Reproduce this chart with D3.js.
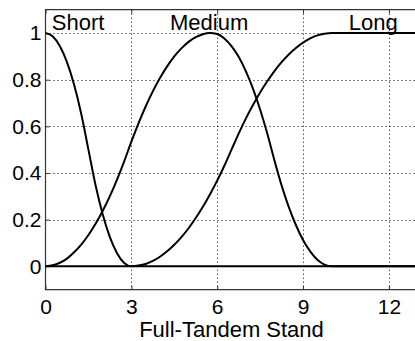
<!DOCTYPE html>
<html>
<head>
<meta charset="utf-8">
<script src="https://cdn.jsdelivr.net/npm/d3@7"></script>
<style>
  body { margin: 0; background: #fff; }
  svg { display: block; font-family: "Liberation Sans", Arial, sans-serif; }
</style>
</head>
<body>
<div id="chart"></div>
<script>
// sample positions along Full-Tandem Stand
const xs = [0, 0.25, 0.5, 0.75, 1, 1.25, 1.5, 1.75, 2, 2.25, 2.5, 2.75, 3,
  3.25, 3.5, 3.75, 4, 4.25, 4.5, 4.75, 5, 5.25, 5.5, 5.75, 6, 6.25, 6.5, 6.75,
  7, 7.25, 7.5, 7.75, 8, 8.25, 8.5, 8.75, 9, 9.25, 9.5, 9.75, 10, 13];

// membership values
const shortVals = [1, 0.986, 0.944, 0.875, 0.778, 0.653, 0.5, 0.347, 0.222, 0.125, 0.056, 0.014, 0,
  0, 0, 0, 0, 0, 0, 0, 0, 0, 0, 0, 0, 0, 0, 0,
  0, 0, 0, 0, 0, 0, 0, 0, 0, 0, 0, 0, 0, 0];
const mediumVals = [0, 0.004, 0.015, 0.033, 0.060, 0.093, 0.134, 0.182, 0.238, 0.301, 0.372, 0.450, 0.534,
  0.613, 0.685, 0.750, 0.807, 0.857, 0.900, 0.934, 0.962, 0.982, 0.995, 1.0, 0.996, 0.977, 0.944, 0.898,
  0.837, 0.762, 0.672, 0.569, 0.454, 0.347, 0.255, 0.177, 0.113, 0.064, 0.028, 0.007, 0, 0];
const longVals = [0, 0, 0, 0, 0, 0, 0, 0, 0, 0, 0, 0, 0,
  0.003, 0.010, 0.023, 0.041, 0.064, 0.092, 0.125, 0.163, 0.207, 0.255, 0.309, 0.367, 0.431, 0.5, 0.569,
  0.633, 0.691, 0.745, 0.793, 0.837, 0.875, 0.908, 0.936, 0.959, 0.977, 0.990, 0.997, 1, 1];

const seriesNames = ["Short", "Medium", "Long"];
const labelX = [0.22, 5.72, 10.6];          // where each name sits (data units)
const labelAnchor = ["start", "middle", "start"];

const xTicks = [0, 3, 6, 9, 12];
const yTicks = [0, 0.2, 0.4, 0.6, 0.8, 1];
const xTitle = "Full-Tandem Stand";

const width = 415, height = 341;
const plot = {left: 45.5, right: 417.5, top: 9.7, bottom: 289.6};

const svg = d3.select("#chart").append("svg")
  .attr("width", width)
  .attr("height", height);

const x = d3.scaleLinear().domain([0, 13]).range([plot.left, plot.right]);
const y = d3.scaleLinear().domain([-0.1, 1.1]).range([plot.bottom, plot.top]);

svg.append("clipPath").attr("id", "clip")
  .append("rect")
  .attr("x", plot.left).attr("y", plot.top - 2)
  .attr("width", plot.right - plot.left).attr("height", plot.bottom - plot.top + 4);

// dotted grid
const grid = svg.append("g").attr("stroke", "#000").attr("stroke-width", 1)
  .attr("stroke-dasharray", "1,3");
grid.selectAll(".vg").data(xTicks.filter(d => d > 0)).enter().append("line")
  .attr("x1", d => Math.round(x(d)) + 0.5).attr("x2", d => Math.round(x(d)) + 0.5)
  .attr("y1", plot.top).attr("y2", plot.bottom);
grid.selectAll(".hg").data(yTicks).enter().append("line")
  .attr("x1", plot.left).attr("x2", plot.right)
  .attr("y1", d => Math.round(y(d)) + 0.5).attr("y2", d => Math.round(y(d)) + 0.5);

// axes, ticks pointing inward like matlab
const yAxis = svg.append("g")
  .attr("transform", `translate(${plot.left},0)`)
  .call(d3.axisLeft(y).tickValues(yTicks).tickSizeInner(-4).tickSizeOuter(0)
    .tickPadding(4).tickFormat(d => String(d)));
const xAxis = svg.append("g")
  .attr("transform", `translate(0,${plot.bottom})`)
  .call(d3.axisBottom(x).tickValues(xTicks).tickSizeInner(-4).tickSizeOuter(0)
    .tickPadding(9.5).tickFormat(d => String(d)));
const xTop = svg.append("g")
  .attr("transform", `translate(0,${plot.top})`)
  .call(d3.axisTop(x).tickValues(xTicks).tickSizeInner(-4).tickSizeOuter(0).tickFormat(""));

[yAxis, xAxis, xTop].forEach(g => {
  g.select(".domain").remove();
  g.selectAll(".tick line").attr("stroke", "#333");
  g.selectAll("text").attr("font-size", 21).attr("fill", "#000")
    .attr("font-family", "'Liberation Sans', Arial, sans-serif");
});

// box
svg.append("path")
  .attr("d", `M${plot.right},${plot.top}H${plot.left}V${plot.bottom}H${plot.right}`)
  .attr("fill", "none").attr("stroke", "#333").attr("stroke-width", 1.2);

// curves
const line = d3.line()
  .x((d, i) => x(xs[i]))
  .y(d => y(d))
  .curve(d3.curveMonotoneX);

svg.append("g").attr("clip-path", "url(#clip)")
  .selectAll("path")
  .data([shortVals, mediumVals, longVals])
  .enter().append("path")
  .attr("d", line)
  .attr("fill", "none")
  .attr("stroke", "#000")
  .attr("stroke-width", 2);

// curve names
svg.selectAll(".name").data(seriesNames).enter().append("text")
  .attr("x", (d, i) => x(labelX[i]))
  .attr("y", 29.5)
  .attr("text-anchor", (d, i) => labelAnchor[i])
  .attr("font-size", 22)
  .text(d => d);

svg.append("text")
  .attr("x", (plot.left + plot.right) / 2)
  .attr("y", 337)
  .attr("text-anchor", "middle")
  .attr("font-size", 22)
  .text(xTitle);
</script>
</body>
</html>
